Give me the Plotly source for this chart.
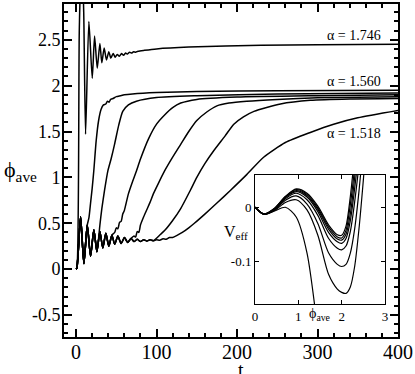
import plotly.graph_objects as go

# ---- main panel: phi_ave(t) ----
# shared early oscillation (all but alpha = 1.746)
t_base = [0, 1, 5.6, 9.7, 13.9, 18, 22.1, 25.9, 29.6, 33.2, 37, 40.7, 44.5, 48, 51.9,
          56, 60.2, 64, 68.4, 72, 76, 80, 84, 88, 92, 96, 100]
phi_base = [0, 0.01, 0.57, 0.06, 0.48, 0.14, 0.43, 0.19, 0.41, 0.23, 0.39, 0.25, 0.37, 0.27, 0.36,
            0.28, 0.345, 0.29, 0.335, 0.30, 0.325, 0.30, 0.32, 0.305, 0.32, 0.31, 0.32]

# alpha = 1.746
t_a = [0, 1, 4, 7, 9.5, 11.8, 15.9, 20.1, 23.0, 26.3, 29.6, 32.0, 34.9, 37.8, 40.7, 43.2, 46.1,
       48.6, 51.1, 53.8, 56.5, 59, 61.5, 64, 66.5, 69, 71.5, 74, 77, 85, 100, 140, 230, 300, 400]
phi_a = [0, 0.01, 2.6, 3.5, 2.8, 1.47, 2.70, 2.08, 2.54, 2.19, 2.46, 2.25, 2.41, 2.28, 2.37, 2.30, 2.35,
         2.31, 2.34, 2.32, 2.35, 2.33, 2.355, 2.345, 2.365, 2.355, 2.37, 2.365, 2.375, 2.385, 2.40,
         2.42, 2.44, 2.445, 2.45]

# alpha = 1.560
t_b = [16, 18, 20, 22, 25, 28, 31, 34, 37, 39, 41, 43, 46, 50, 55, 60, 70, 100, 150, 250, 400]
phi_b = [0.56, 0.72, 0.88, 1.07, 1.4, 1.62, 1.74, 1.79, 1.80, 1.83, 1.82, 1.85, 1.86, 1.88, 1.89,
         1.90, 1.91, 1.925, 1.935, 1.945, 1.95]

t_c = [29.6, 32, 35.4, 39.5, 43.5, 47.8, 53, 58, 65, 75, 100, 150, 250, 400]
phi_c = [0.48, 0.66, 0.86, 1.07, 1.2, 1.36, 1.57, 1.72, 1.79, 1.83, 1.87, 1.89, 1.91, 1.92]

t_d = [48, 50, 52, 54, 56, 58, 60, 65, 70, 75, 80, 90, 100, 110, 120, 130, 150, 200, 300, 400]
phi_d = [0.40, 0.45, 0.44, 0.51, 0.52, 0.60, 0.64, 0.82, 0.95, 1.07, 1.2, 1.42, 1.58, 1.68, 1.76,
         1.81, 1.85, 1.875, 1.89, 1.90]

t_e = [72, 74, 76, 78, 80, 84, 88, 92, 96, 102, 110, 120, 130, 140, 150, 162, 175, 190, 212,
       250, 300, 400]
phi_e = [0.36, 0.35, 0.41, 0.40, 0.48, 0.57, 0.65, 0.73, 0.82, 0.93, 1.07, 1.22, 1.36, 1.5, 1.62,
         1.71, 1.78, 1.81, 1.83, 1.85, 1.868, 1.88]

t_f = [105, 110, 120, 130, 142, 150, 160, 171, 185, 196, 208, 221, 254, 291, 340, 400]
phi_f = [0.38, 0.42, 0.53, 0.66, 0.86, 1.0, 1.15, 1.29, 1.45, 1.58, 1.66, 1.72, 1.80, 1.84, 1.855, 1.86]

# alpha = 1.518
t_g = [104, 108, 112, 116, 120, 126, 132, 140, 147, 160, 175, 192, 212, 233, 260, 291, 320, 350, 400]
phi_g = [0.315, 0.33, 0.325, 0.345, 0.345, 0.37, 0.40, 0.45, 0.50, 0.60, 0.72, 0.86, 1.03, 1.22,
         1.38, 1.49, 1.58, 1.65, 1.73]

# ---- inset: V_eff(phi_ave) ----
inset_phi = [0, 0.2, 0.45, 0.7, 0.95, 1.2, 1.45, 1.7, 1.9, 2.0, 2.1, 2.2, 2.3, 2.4, 2.5, 2.6]
v1 = [0, -0.0125, -0.002, 0.020, 0.034, 0.026, 0.002, -0.033, -0.051, -0.052, -0.035, 0.02, 0.10, 0.2, 0.3, 0.4]
v2 = [0, -0.0125, -0.002, 0.0195, 0.033, 0.024, -0.001, -0.037, -0.055, -0.057, -0.043, 0.005, 0.075, 0.17, 0.28, 0.4]
v3 = [0, -0.0125, -0.0025, 0.019, 0.031, 0.022, -0.004, -0.041, -0.059, -0.061, -0.050, -0.012, 0.055, 0.14, 0.25, 0.37]
v4 = [0, -0.0125, -0.003, 0.018, 0.029, 0.019, -0.008, -0.047, -0.064, -0.067, -0.058, -0.025, 0.035, 0.11, 0.21, 0.33]
v5 = [0, -0.0125, -0.0035, 0.016, 0.026, 0.014, -0.015, -0.058, -0.076, -0.079, -0.072, -0.045, 0.01, 0.08, 0.17, 0.28]
v6 = [0, -0.013, -0.005, 0.013, 0.021, 0.006, -0.030, -0.085, -0.106, -0.110, -0.106, -0.085, -0.04, 0.03, 0.12, 0.22]
v7 = [0, -0.013, -0.006, 0.009, 0.014, -0.005, -0.052, -0.125, -0.152, -0.158, -0.160, -0.148, -0.11, -0.04, 0.05, 0.15]
v8 = [0, -0.013, -0.007, 0.0, -0.018, -0.085, -0.23, -0.4]

SERIF = "Liberation Serif"

fig = go.Figure()

# curves that share the early oscillation: (index where they leave it, own points)
branches = [(5, t_b, phi_b), (8, t_c, phi_c), (13, t_d, phi_d), (19, t_e, phi_e),
            (len(t_base) - 1, t_f, phi_f), (len(t_base), t_g, phi_g)]

fig.add_trace(go.Scatter(x=t_a, y=phi_a, mode='lines',
                         line=dict(color='black', width=1.5, shape='spline', smoothing=0.6)))
for cut, tt, pp in branches:
    xs = t_base[:cut] + tt
    ys = phi_base[:cut] + pp
    fig.add_trace(go.Scatter(x=xs, y=ys, mode='lines',
                             line=dict(color='black', width=1.5, shape='spline', smoothing=0.6)))

for v in [v1, v2, v3, v4, v5, v6, v7, v8]:
    fig.add_trace(go.Scatter(x=inset_phi[:len(v)], y=v, mode='lines', xaxis='x2', yaxis='y2',
                             line=dict(color='black', width=1.2, shape='spline', smoothing=0.8)))

main_y_vals = [-0.5, 0, 0.5, 1, 1.5, 2, 2.5]
main_y_text = ['-0.5', '0', '0.5', '1', '1.5', '2', '2.5']

axis_common = dict(showgrid=False, zeroline=False, showline=True, linecolor='black',
                   mirror='ticks', ticks='inside', tickcolor='black')

fig.update_layout(
    width=415, height=374,
    margin=dict(l=64, r=17, t=2, b=37),
    paper_bgcolor='white', plot_bgcolor='white',
    showlegend=False,
    font=dict(family=SERIF, color='black'),
    xaxis=dict(range=[-15, 400], tickvals=[0, 100, 200, 300, 400], ticklen=8, tickwidth=1.5,
               linewidth=2, tickfont=dict(size=20), ticklabelstandoff=-4,
               minor=dict(dtick=20, tick0=0, ticks='inside', ticklen=4, tickcolor='black'),
               **axis_common),
    yaxis=dict(range=[-0.74, 2.89], tickvals=main_y_vals, ticktext=main_y_text, ticklen=8,
               tickwidth=1.5, linewidth=2, tickfont=dict(size=18), ticklabelstandoff=-2,
               minor=dict(dtick=0.1, tick0=0, ticks='inside', ticklen=4, tickcolor='black'),
               **axis_common),
    xaxis2=dict(domain=[0.572, 0.961], anchor='y2', range=[0, 3], tickvals=[0, 1, 2, 3],
                ticklen=4, linewidth=1, tickfont=dict(size=13), **axis_common),
    yaxis2=dict(domain=[0.0985, 0.4866], anchor='x2', range=[-0.18, 0.06], tickvals=[-0.1, 0],
                ticktext=['-0.1', '0'], ticklen=4, linewidth=1, tickfont=dict(size=13),
                **axis_common),
)

ann = [
    dict(text='ϕ<sub>ave</sub>', x=-0.1856, y=0.4985, xref='paper', yref='paper',
         xanchor='left', yanchor='middle', font=dict(size=22)),
    dict(text='t', x=0.53, y=-0.1, xref='paper', yref='paper',
         xanchor='center', yanchor='middle', font=dict(size=20)),
    dict(text='V<sub>eff</sub>', x=0.515, y=0.313, xref='paper', yref='paper',
         xanchor='center', yanchor='middle', font=dict(size=16)),
    dict(text='ϕ<sub>ave</sub>', x=0.766, y=0.0687, xref='paper', yref='paper',
         xanchor='center', yanchor='middle', font=dict(size=14)),
    dict(text='α = 1.746', x=381.5, y=2.545, xref='x', yref='y',
         xanchor='right', yanchor='middle', font=dict(size=14)),
    dict(text='α = 1.560', x=381.5, y=2.05, xref='x', yref='y',
         xanchor='right', yanchor='middle', font=dict(size=14)),
    dict(text='α = 1.518', x=381.5, y=1.475, xref='x', yref='y',
         xanchor='right', yanchor='middle', font=dict(size=14)),
]
for a in ann:
    fig.add_annotation(showarrow=False, **a)

# page body has a default 8px margin; drop it so the figure sits at the window corner
fig.write_html("out.html", config={'displayModeBar': False},
               post_script="document.body.style.margin = '0px';")
